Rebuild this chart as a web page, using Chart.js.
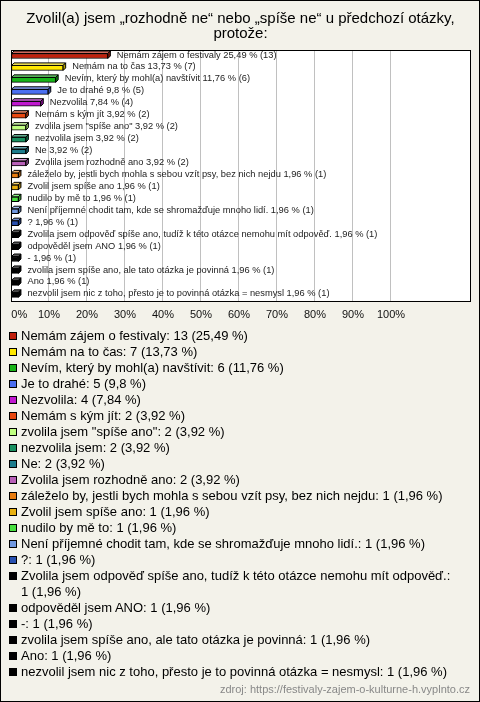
<!DOCTYPE html>
<html>
<head>
<meta charset="utf-8">
<script src="https://cdn.jsdelivr.net/npm/chart.js@4.4.0/dist/chart.umd.min.js"></script>
<style>
  body { margin: 0; }
  #wrap { position: relative; width: 480px; height: 702px; background: #f3f2ea; overflow: hidden;
          font-family: "Liberation Sans", Arial, sans-serif; }
  #frame { position: absolute; left: 0; top: 0; width: 480px; height: 702px; box-sizing: border-box;
           border: 1px solid #000; pointer-events: none; }
  #myChart { position: absolute; left: 0; top: 0; }
  #legend { position: absolute; left: 9px; top: 328px; width: 462px; font-size: 13px; line-height: 16px; color: #000; }
  .item { display: flex; align-items: flex-start; }
  .sw { flex: none; width: 8px; height: 8px; box-sizing: border-box; border: 1px solid #000; margin: 4px 4px 0 0; }
  #src { position: absolute; right: 10px; top: 683px; font-size: 11px; color: #888; }
</style>
</head>
<body>
<div id="wrap">
  <canvas id="myChart" width="480" height="333"></canvas>
  <div id="legend"></div>
  <div id="src">zdroj: https://festivaly-zajem-o-kulturne-h.vyplnto.cz</div>
  <div id="frame"></div>
</div>
<script>
var titleLines = ['Zvolil(a) jsem „rozhodně ne“ nebo „spíše ne“ u předchozí otázky,', 'protože:'];

var categories = [
  'Nemám zájem o festivaly',
  'Nemám na to čas',
  'Nevím, který by mohl(a) navštívit',
  'Je to drahé',
  'Nezvolila',
  'Nemám s kým jít',
  'zvolila jsem "spíše ano"',
  'nezvolila jsem',
  'Ne',
  'Zvolila jsem rozhodně ano',
  'záleželo by, jestli bych mohla s sebou vzít psy, bez nich nejdu',
  'Zvolil jsem spíše ano',
  'nudilo by mě to',
  'Není příjemné chodit tam, kde se shromažďuje mnoho lidí.',
  '?',
  'Zvolila jsem odpověď spíše ano, tudíž k této otázce nemohu mít odpověď.',
  'odpověděl jsem ANO',
  '-',
  'zvolila jsem spíše ano, ale tato otázka je povinná',
  'Ano',
  'nezvolil jsem nic z toho, přesto je to povinná otázka = nesmysl'
];
var counts = [13, 7, 6, 5, 4, 2, 2, 2, 2, 2, 1, 1, 1, 1, 1, 1, 1, 1, 1, 1, 1];
var percents = [25.49, 13.73, 11.76, 9.8, 7.84, 3.92, 3.92, 3.92, 3.92, 3.92,
                1.96, 1.96, 1.96, 1.96, 1.96, 1.96, 1.96, 1.96, 1.96, 1.96, 1.96];
var barColors = ['#c0200c', '#ffe800', '#18b418', '#4a6ef0', '#c018d0', '#e84810', '#c0ff80',
                 '#189060', '#1c7c8c', '#b860b8', '#e87c10', '#e8b010', '#48e040', '#7098e0',
                 '#2850b0', '#000000', '#000000', '#000000', '#000000', '#000000', '#000000'];

function fmt(p) { return String(p).replace('.', ','); }

// legend below the chart
var legend = document.getElementById('legend');
categories.forEach(function(c, i) {
  var row = document.createElement('div');
  row.className = 'item';
  var sw = document.createElement('span');
  sw.className = 'sw';
  sw.style.background = barColors[i];
  var tx = document.createElement('span');
  tx.textContent = c + ': ' + counts[i] + '\u00a0(' + fmt(percents[i]) + '\u00a0%)';
  row.appendChild(sw);
  row.appendChild(tx);
  legend.appendChild(row);
});

function shade(hex, f) {
  var n = parseInt(hex.slice(1), 16);
  var r = n >> 16, g = (n >> 8) & 255, b = n & 255;
  if (f > 0) { r += (255 - r) * f; g += (255 - g) * f; b += (255 - b) * f; }
  else { r *= 1 + f; g *= 1 + f; b *= 1 + f; }
  return 'rgb(' + Math.round(r) + ',' + Math.round(g) + ',' + Math.round(b) + ')';
}

var plotBox = {
  id: 'plotBox',
  beforeDraw: function(chart) {
    var a = chart.chartArea, ctx = chart.ctx;
    ctx.save();
    ctx.fillStyle = '#fff';
    ctx.fillRect(a.left, a.top, a.right - a.left, a.bottom - a.top);
    ctx.restore();
  },
  afterDatasetsDraw: function(chart) {
    var ctx = chart.ctx, d = 2.5;
    var meta = chart.getDatasetMeta(0);
    ctx.save();
    ctx.lineWidth = 1;
    ctx.strokeStyle = '#000';
    meta.data.forEach(function(bar, i) {
      var x0 = bar.base, x1 = bar.x, top = bar.y - bar.height / 2, bot = bar.y + bar.height / 2;
      ctx.fillStyle = shade(barColors[i], 0.35);
      ctx.beginPath();
      ctx.moveTo(x0, top); ctx.lineTo(x0 + d, top - d); ctx.lineTo(x1 + d, top - d); ctx.lineTo(x1, top);
      ctx.closePath(); ctx.fill(); ctx.stroke();
      ctx.fillStyle = shade(barColors[i], -0.3);
      ctx.beginPath();
      ctx.moveTo(x1, top); ctx.lineTo(x1 + d, top - d); ctx.lineTo(x1 + d, bot - d); ctx.lineTo(x1, bot);
      ctx.closePath(); ctx.fill(); ctx.stroke();
      ctx.fillStyle = '#222';
      ctx.font = '9.3px "Liberation Sans", Arial, sans-serif';
      ctx.textBaseline = 'middle';
      ctx.fillText(categories[i] + ' ' + fmt(percents[i]) + ' % (' + counts[i] + ')', x1 + 9, bar.y - 1);
    });
    ctx.restore();
  },
  afterDraw: function(chart) {
    var a = chart.chartArea, ctx = chart.ctx;
    ctx.save();
    ctx.strokeStyle = '#000';
    ctx.lineWidth = 1;
    ctx.strokeRect(Math.round(a.left) + 0.5, Math.round(a.top) + 0.5, Math.round(a.right - a.left), Math.round(a.bottom - a.top));
    ctx.restore();
  }
};

var ctx = document.getElementById('myChart');
var myChart = new Chart(ctx, {
  type: 'bar',
  data: {
    labels: categories,
    datasets: [{
      data: percents,
      backgroundColor: barColors,
      borderColor: '#000',
      borderWidth: 1,
      borderSkipped: false,
      barThickness: 5
    }]
  },
  plugins: [plotBox],
  options: {
    indexAxis: 'y',
    responsive: false,
    animation: false,
    layout: { padding: { left: 11, right: 10, top: 0, bottom: 3 } },
    plugins: {
      legend: { display: false },
      tooltip: { enabled: false },
      title: {
        display: true,
        text: titleLines,
        color: '#000',
        font: { family: '"Liberation Sans", Arial, sans-serif', size: 15, weight: 'normal', lineHeight: 1 },
        padding: { top: 11, bottom: 9 }
      }
    },
    scales: {
      x: {
        min: 0,
        max: 120.8,
        afterBuildTicks: function(axis) {
          axis.ticks = axis.ticks.filter(function(t) { return t.value <= 100; });
        },
        afterFit: function(axis) {
          axis.paddingLeft = 0;
          axis.paddingRight = 0;
        },
        ticks: {
          stepSize: 10,
          padding: 8,
          color: '#111',
          font: { family: '"Liberation Sans", Arial, sans-serif', size: 11 },
          maxRotation: 0,
          autoSkip: false,
          callback: function(v) { return v === 0 ? '\u2003\u20020%' : v + '%'; }
        },
        grid: { color: '#c0c0c0', drawTicks: false },
        border: { display: false }
      },
      y: {
        display: false
      }
    }
  }
});
</script>
</body>
</html>
